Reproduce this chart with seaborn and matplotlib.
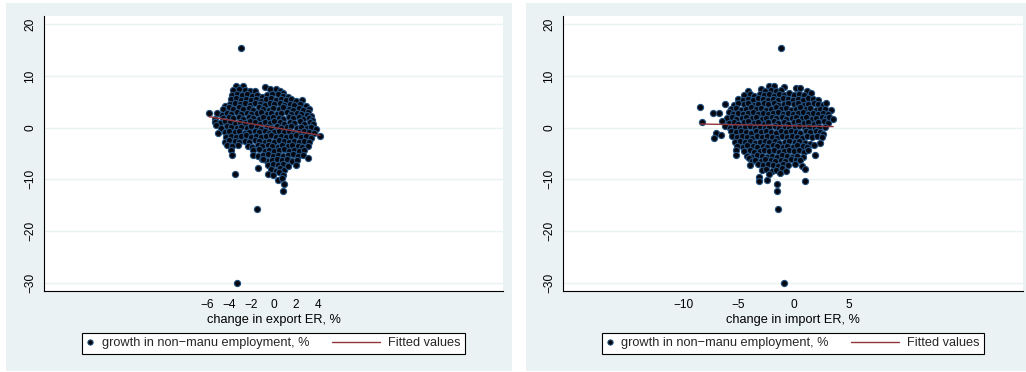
import numpy as np
import pandas as pd
import matplotlib
matplotlib.use("Agg")
import matplotlib.pyplot as plt
from matplotlib.lines import Line2D
from matplotlib.patches import Rectangle
from matplotlib.legend_handler import HandlerLine2D
import seaborn as sns

# ---------------------------------------------------------------------------
# Data: growth in non-manufacturing employment (%) against exchange-rate change
# ---------------------------------------------------------------------------
exp_x = [
    -3.4, -2.7, -0.8,
    -3.6, -3.1, -2.6, -2.1, -1.7, -0.3, 0.2, 0.6, 0.9,
    -3.7, -3.3, -2.8, -2.4, -1.9, -1.5, -1.0, -0.6, -0.1, 0.4, 0.9, 1.3,
    -3.8, -3.4, -2.9, -2.5, -2.0, -1.6, -1.1, -0.7, -0.2, 0.2, 0.7, 1.1, 1.6, 2.0, 2.6,
    -4.4, -3.9, -3.5, -3.0, -2.6, -2.1, -1.7, -1.2, -0.8, -0.3, 0.1, 0.6, 1.0, 1.5, 1.9, 2.4, 2.9, 3.2,
    -4.5, -4.0, -3.6, -3.1, -2.7, -2.2, -1.8, -1.3, -0.9, -0.4, 0.0, 0.5, 0.9, 1.4, 1.8, 2.3, 2.7, 3.1,
    -5.8, -5.1, -4.6, -4.2, -3.8, -3.3, -2.9, -2.4, -2.0, -1.5, -1.1, -0.6, -0.2, 0.3, 0.7, 1.2, 1.6, 2.1, 2.5, 3.0, 3.4,
    -5.3, -4.5, -4.0, -3.6, -3.1, -2.7, -2.2, -1.8, -1.3, -0.9, -0.4, 0.0, 0.5, 0.9, 1.4, 1.8, 2.3, 2.7, 3.2, 3.5,
    -5.3, -4.8, -4.4, -3.9, -3.5, -3.0, -2.6, -2.1, -1.7, -1.2, -0.8, -0.3, 0.1, 0.6, 1.0, 1.5, 1.9, 2.4, 2.8, 3.3, 3.6,
    -5.2, -4.7, -4.2, -3.8, -3.3, -2.9, -2.4, -2.0, -1.5, -1.1, -0.6, -0.2, 0.3, 0.7, 1.2, 1.6, 2.1, 2.5, 3.0, 3.4, 3.8,
    -5.0, -4.4, -4.0, -3.5, -3.1, -2.6, -2.2, -1.7, -1.3, -0.8, -0.4, 0.1, 0.5, 1.0, 1.4, 1.9, 2.3, 2.8, 3.2, 3.7,
    -4.3, -3.8, -3.4, -2.9, -2.5, -2.0, -1.6, -1.1, -0.7, -0.2, 0.2, 0.7, 1.1, 1.6, 2.0, 2.5, 2.9, 3.4, 4.2,
    -4.4, -4.0, -3.5, -3.1, -2.6, -2.2, -1.7, -1.3, -0.8, -0.4, 0.1, 0.5, 1.0, 1.4, 1.9, 2.3, 2.8, 3.2,
    -4.2, -3.7, -3.2, -2.3, -1.9, -1.4, -1.0, -0.5, -0.1, 0.4, 0.8, 1.3, 1.7, 2.2, 2.6, 3.1,
    -3.8, -1.8, -1.3, -0.8, -0.4, 0.1, 0.5, 1.0, 1.4, 1.9, 2.3, 2.8,
    -3.7, -1.8, -1.4, -0.9, -0.5, 0.0, 0.4, 0.9, 1.3, 1.8, 2.2, 2.7, 3.1,
    -1.0, -0.6, -0.1, 0.3, 0.8, 1.2, 1.7, 2.1,
    -0.9, -0.5, 0.0, 0.4, 0.9, 1.3, 2.0,
    -1.4, -0.2, 0.2, 0.6, 1.0, 1.3,
    -3.5, -0.5, 0.0, 0.5, 0.9, 0.4, 0.8, 0.95, 0.9,
    -2.95, -3.3, -1.5,
]
exp_y = [
    8.1, 8.1, 7.8,
    7.2, 7.5, 7.3, 7.1, 7.0, 7.5, 7.4, 7.1, 6.8,
    6.4, 6.6, 6.3, 6.5, 6.2, 6.4, 6.0, 6.3, 6.6, 6.5, 6.2, 6.0,
    5.5, 5.7, 5.4, 5.6, 5.3, 5.6, 5.2, 5.5, 5.7, 5.4, 5.6, 5.3, 5.5, 5.1, 5.3,
    4.2, 4.6, 4.8, 4.5, 4.7, 4.4, 4.8, 4.6, 4.3, 4.7, 4.5, 4.8, 4.4, 4.6, 4.3, 4.5, 4.2, 3.6,
    3.6, 3.9, 3.7, 3.9, 3.6, 3.8, 3.5, 3.9, 3.7, 3.5, 3.8, 3.6, 3.9, 3.7, 3.5, 3.8, 3.4, 3.0,
    2.9, 2.9, 2.4, 2.9, 2.6, 3.0, 2.7, 2.9, 2.6, 2.8, 3.0, 2.7, 2.9, 2.6, 2.8, 3.0, 2.7, 2.9, 2.6, 2.5, 2.2,
    1.6, 1.9, 2.1, 1.8, 2.0, 1.7, 2.1, 1.9, 1.7, 2.0, 1.8, 2.1, 1.9, 1.7, 2.0, 1.8, 2.1, 1.7, 1.9, 1.5,
    1.1, 0.9, 1.2, 1.0, 0.8, 1.1, 0.9, 1.2, 1.0, 0.8, 1.1, 0.9, 1.2, 1.0, 0.8, 1.1, 0.9, 1.2, 0.8, 1.0, 0.7,
    0.6, 0.0, 0.3, 0.1, -0.1, 0.2, 0.0, 0.3, 0.1, -0.2, 0.2, 0.0, 0.3, -0.1, 0.1, 0.3, -0.1, 0.2, 0.0, 0.2, -0.3,
    -1.1, -0.8, -0.6, -0.9, -0.7, -1.0, -0.8, -0.6, -0.9, -0.7, -1.0, -0.8, -0.6, -0.9, -0.7, -1.0, -0.8, -0.6, -0.9, -1.1,
    -1.8, -1.6, -1.9, -1.7, -1.5, -1.8, -1.6, -1.9, -1.7, -1.5, -1.8, -1.6, -1.9, -1.7, -1.5, -1.8, -1.6, -2.0, -1.7,
    -2.7, -2.4, -2.6, -2.8, -2.5, -2.7, -2.4, -2.6, -2.8, -2.5, -2.7, -2.4, -2.6, -2.8, -2.5, -2.7, -2.5, -2.8,
    -3.3, -3.6, -3.4, -3.5, -3.7, -3.4, -3.6, -3.3, -3.5, -3.7, -3.4, -3.6, -3.3, -3.5, -3.7, -3.5,
    -4.3, -4.4, -4.2, -4.5, -4.3, -4.6, -4.4, -4.2, -4.5, -4.3, -4.6, -4.4,
    -5.3, -5.2, -5.5, -5.3, -5.1, -5.4, -5.2, -5.5, -5.3, -5.1, -5.4, -5.2, -5.8,
    -6.1, -6.4, -6.2, -6.0, -6.3, -6.1, -6.4, -6.2,
    -6.0, -7.2, -7.0, -7.3, -7.1, -7.4, -7.3,
    -7.9, -8.0, -8.3, -7.9, -8.2, -7.4,
    -8.9, -9.0, -9.1, -8.6, -9.2, -10.1, -9.8, -10.9, -12.3,
    15.5, -30.0, -15.7,
]

imp_x = [
    -2.2, -1.8, -0.85,
    -4.1, -3.0, -2.6, -2.1, -1.6, -1.2, 0.2, 0.6, 1.2,
    -4.5, -4.0, -3.6, -3.1, -2.7, -2.2, -1.8, -1.3, -0.9, -0.4, 0.0, 0.5, 0.9, 1.55,
    -5.0, -4.6, -4.1, -3.7, -3.2, -2.8, -2.3, -1.9, -1.4, -1.0, -0.5, -0.1, 0.4, 0.8, 1.3, 1.7, 2.2,
    -6.25, -5.4, -5.0, -4.5, -4.1, -3.6, -3.2, -2.7, -2.3, -1.8, -1.4, -0.9, -0.5, 0.0, 0.4, 0.9, 1.3, 1.8, 2.2, 2.6, 2.95,
    -8.45, -5.7, -5.2, -4.8, -4.3, -3.9, -3.4, -3.0, -2.5, -2.1, -1.6, -1.2, -0.7, -0.3, 0.2, 0.6, 1.1, 1.5, 2.0, 2.4, 2.8, 3.4,
    -7.3, -6.75, -5.9, -5.5, -5.0, -4.6, -4.1, -3.7, -3.2, -2.8, -2.3, -1.9, -1.4, -1.0, -0.5, -0.1, 0.4, 0.8, 1.3, 1.7, 2.2, 2.6, 3.1,
    -6.0, -5.6, -5.2, -4.7, -4.3, -3.8, -3.4, -2.9, -2.5, -2.0, -1.6, -1.1, -0.7, -0.2, 0.2, 0.7, 1.1, 1.6, 2.0, 2.5, 2.9, 3.2,
    -8.25, -6.5, -5.9, -5.4, -5.0, -4.5, -4.1, -3.6, -3.2, -2.7, -2.3, -1.8, -1.4, -0.9, -0.5, 0.0, 0.4, 0.9, 1.3, 1.8, 2.2, 2.7, 3.1, 3.55,
    -6.2, -5.8, -5.3, -4.9, -4.4, -4.0, -3.5, -3.1, -2.6, -2.2, -1.7, -1.3, -0.8, -0.4, 0.1, 0.5, 1.0, 1.4, 1.9, 2.3, 2.8,
    -7.05, -6.6, -5.7, -5.2, -4.8, -4.3, -3.9, -3.4, -3.0, -2.5, -2.1, -1.6, -1.2, -0.7, -0.3, 0.2, 0.6, 1.1, 1.5, 2.0, 2.4, 2.65,
    -7.2, -5.6, -5.1, -4.7, -4.2, -3.8, -3.3, -2.9, -2.4, -2.0, -1.5, -1.1, -0.6, -0.2, 0.3, 0.7, 1.2, 1.6, 2.1, 2.5,
    -5.3, -4.9, -4.4, -4.0, -3.5, -3.1, -2.6, -2.2, -1.7, -1.3, -0.8, -0.4, 0.1, 0.5, 1.0, 1.45, 2.4,
    -5.1, -4.6, -4.2, -3.7, -3.3, -2.8, -2.4, -1.9, -1.5, -1.0, -0.6, -0.1, 0.3, 0.8, 1.2, 1.8,
    -5.25, -4.5, -4.0, -3.6, -3.1, -2.7, -2.2, -1.8, -1.3, -0.9, -0.4, 0.0, 0.5, 0.9, 1.3,
    -5.2, -4.2, -3.8, -3.3, -2.9, -2.4, -2.0, -1.5, -1.1, -0.6, -0.2, 0.3, 0.85, 1.95,
    -4.05, -3.8, -3.5, -3.0, -2.6, -2.1, -1.7, -1.2, -0.8, -0.3, 0.2, 0.6,
    -4.0, -3.2, -2.8, -2.3, -1.9, -1.4, -1.0, -0.5, 0.1, 0.7,
    -2.9, -2.5, -2.0, -1.6, -1.1, -0.7, 1.0,
    -3.15, -2.2, -1.25, -3.15, -2.4, 1.05, -1.5, -1.55,
    -1.2, -0.85, -1.4,
]
imp_y = [
    8.1, 8.1, 7.8,
    7.1, 7.4, 7.0, 7.3, 7.1, 7.2, 7.6, 7.6, 7.1,
    6.3, 6.5, 6.2, 6.6, 6.3, 6.5, 6.2, 6.6, 6.4, 6.7, 6.3, 6.6, 6.4, 6.65,
    5.5, 5.3, 5.6, 5.4, 5.7, 5.5, 5.3, 5.6, 5.4, 5.7, 5.5, 5.3, 5.6, 5.4, 5.7, 5.5, 5.3,
    4.6, 4.4, 4.7, 4.5, 4.8, 4.4, 4.6, 4.8, 4.5, 4.7, 4.4, 4.6, 4.8, 4.5, 4.7, 4.4, 4.6, 4.8, 4.5, 4.3, 4.7,
    4.0, 3.6, 3.8, 3.5, 3.7, 3.9, 3.6, 3.8, 3.5, 3.7, 3.9, 3.6, 3.8, 3.5, 3.7, 3.9, 3.6, 3.8, 3.5, 3.7, 3.6, 3.4,
    2.9, 2.8, 3.0, 2.7, 2.9, 2.6, 2.8, 3.0, 2.7, 2.9, 2.6, 2.8, 3.0, 2.7, 2.9, 2.6, 2.8, 3.0, 2.7, 2.9, 2.6, 2.8, 2.7,
    1.8, 2.0, 1.7, 1.9, 2.1, 1.8, 2.0, 1.7, 1.9, 2.1, 1.8, 2.0, 1.7, 1.9, 2.1, 1.8, 2.0, 1.7, 1.9, 2.1, 1.8, 2.0,
    1.15, 1.35, 0.9, 1.1, 0.8, 1.0, 1.2, 0.9, 1.1, 0.8, 1.0, 1.2, 0.9, 1.1, 0.8, 1.0, 1.2, 0.9, 1.1, 0.8, 1.0, 1.2, 0.9, 1.6,
    0.3, 0.0, 0.2, -0.1, 0.1, 0.3, 0.0, 0.2, -0.1, 0.1, 0.3, 0.0, 0.2, -0.1, 0.1, 0.3, 0.0, 0.2, -0.1, 0.1, 0.2,
    -1.1, -1.4, -0.7, -0.9, -0.6, -0.8, -1.0, -0.7, -0.9, -0.6, -0.8, -1.0, -0.7, -0.9, -0.6, -0.8, -1.0, -0.7, -0.9, -0.6, -0.8, -1.3,
    -2.05, -1.7, -1.9, -1.6, -1.8, -2.0, -1.7, -1.9, -1.6, -1.8, -2.0, -1.7, -1.9, -1.6, -1.8, -2.0, -1.7, -1.9, -1.6, -1.8,
    -2.7, -2.5, -2.8, -2.6, -2.9, -2.7, -2.5, -2.8, -2.6, -2.9, -2.7, -2.5, -2.8, -2.6, -2.9, -3.2, -3.0,
    -3.5, -3.7, -3.4, -3.6, -3.8, -3.5, -3.7, -3.4, -3.6, -3.8, -3.5, -3.7, -3.4, -3.6, -3.8, -3.3,
    -4.4, -4.6, -4.4, -4.7, -4.5, -4.3, -4.6, -4.4, -4.7, -4.5, -4.3, -4.6, -4.4, -4.7, -4.4,
    -5.3, -5.4, -5.6, -5.3, -5.5, -5.7, -5.4, -5.6, -5.3, -5.5, -5.7, -5.4, -5.6, -5.3,
    -5.9, -6.5, -6.2, -6.4, -6.1, -6.3, -6.5, -6.2, -6.4, -6.1, -6.3, -6.2,
    -7.2, -7.1, -7.3, -7.0, -7.2, -7.4, -7.1, -7.3, -7.0, -7.4,
    -8.2, -8.0, -8.3, -8.1, -7.9, -8.3, -8.0,
    -9.5, -9.0, -8.8, -10.3, -10.2, -10.3, -10.9, -12.25,
    15.5, -30.0, -15.7,
]

# Linear fits (endpoints at the range of each regressor)
fit_exp_x = [-5.8, 4.2]
fit_exp_y = [2.12, -1.47]
fit_imp_x = [-8.45, 3.55]
fit_imp_y = [0.71, 0.20]

exp_ticks = [-6, -4, -2, 0, 2, 4]
imp_ticks = [-10, -5, 0, 5]
y_ticks = [-30, -20, -10, 0, 10, 20]

exp_label = "change in export ER, %"
imp_label = "change in import ER, %"
series_label = "growth in non\u2212manu employment, %"
fit_label = "Fitted values"

# ---------------------------------------------------------------------------
# Style
# ---------------------------------------------------------------------------
sns.set_theme(style="white")
plt.rcParams["font.family"] = ["Liberation Sans", "DejaVu Sans"]
plt.rcParams["axes.unicode_minus"] = True

BG = "#eaf2f3"
FACE = "#050810"
EDGE = "#23517f"
MAROON = "#90353b"
TICK_FS = 8.6
LABEL_FS = 9.2

W, H = 1026, 372
fig = plt.figure(figsize=(W / 100, H / 100), dpi=100, facecolor="white")


def fxs(px):
    return px / W


def fys(py):
    return 1 - py / H


# graph-region backgrounds, kept behind the axes
for x0, x1 in [(6, 512), (526, 1026)]:
    fig.patches.append(Rectangle((fxs(x0), fys(371)), (x1 - x0) / W, (371 - 3) / H,
                                 transform=fig.transFigure, facecolor=BG,
                                 edgecolor="none", zorder=-5))


class LongLine(HandlerLine2D):
    """Legend line that reaches further left than its handle box."""

    def __init__(self, extra, **kw):
        super().__init__(**kw)
        self.extra = extra

    def get_xdata(self, legend, xdescent, ydescent, width, height, fontsize):
        xdata, xm = super().get_xdata(legend, xdescent, ydescent, width, height, fontsize)
        return [-xdescent - self.extra * fontsize, -xdescent + width], xm


panels = [
    (44, 503, exp_x, exp_y, fit_exp_x, fit_exp_y, exp_ticks, (-20.67, 20.69), exp_label),
    (563, 1023, imp_x, imp_y, fit_imp_x, fit_imp_y, imp_ticks, (-20.85, 20.7), imp_label),
]

for x0, x1, xs, ys, fx_, fy_, xt, xlim, xlabel in panels:
    ax = fig.add_axes([fxs(x0), fys(291), (x1 - x0) / W, (291 - 16) / H])
    ax.set_facecolor("white")

    pts = pd.DataFrame({"x": xs, "y": ys})
    sns.scatterplot(data=pts, x="x", y="y", ax=ax, s=20, color=FACE,
                    edgecolor=EDGE, linewidth=0.8, legend=False, zorder=3)
    fit = pd.DataFrame({"x": fx_, "y": fy_})
    sns.lineplot(data=fit, x="x", y="y", ax=ax, color=MAROON, linewidth=1.0,
                 estimator=None, sort=False, zorder=4)

    ax.set_xlim(*xlim)
    ax.set_ylim(-31.6, 21.6)
    ax.set_xticks(xt)
    ax.set_yticks(y_ticks)
    ax.yaxis.grid(True, color=BG, linewidth=1.0)
    ax.xaxis.grid(False)
    ax.set_axisbelow(True)
    for side in ("top", "right"):
        ax.spines[side].set_visible(False)
    for side in ("left", "bottom"):
        ax.spines[side].set_color("black")
        ax.spines[side].set_linewidth(0.8)
    ax.tick_params(axis="both", direction="out", length=3.6, width=0.75,
                   color="black", labelsize=TICK_FS, pad=2, labelcolor="black")
    ax.tick_params(axis="y", labelrotation=90)
    for lab in ax.get_yticklabels():
        lab.set_va("center")
    ax.set_xlabel(xlabel, fontsize=LABEL_FS, labelpad=2, color="black")
    ax.set_ylabel("")

    h_pts = Line2D([], [], ls="none", marker="o", markersize=3.8,
                   markerfacecolor=FACE, markeredgecolor=EDGE, markeredgewidth=0.7)
    h_fit = Line2D([], [], color=MAROON, lw=1.0)
    leg = ax.legend([h_pts, h_fit], [series_label, fit_label],
                    loc="upper center", bbox_to_anchor=(fxs((x0 + x1) / 2), fys(333)),
                    bbox_transform=fig.transFigure, ncol=2, frameon=True,
                    fancybox=False, edgecolor="black", facecolor="white",
                    framealpha=1, fontsize=LABEL_FS, handlelength=0.55,
                    handletextpad=0.61, columnspacing=5.0, borderpad=0.35,
                    borderaxespad=0, handler_map={h_fit: LongLine(3.22)})
    leg.get_frame().set_linewidth(0.8)

fig.savefig("out.png", dpi=100, facecolor="white")
